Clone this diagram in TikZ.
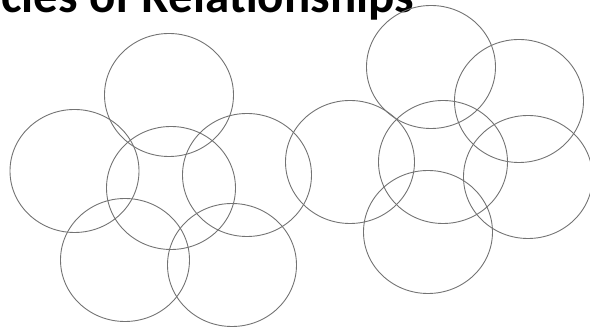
\documentclass[tikz,border=0pt]{standalone}
\usepackage{fontspec}
\setmainfont{Carlito}
\usetikzlibrary{shapes.geometric}
\begin{document}
\begin{tikzpicture}[x=1pt,y=-1pt,
  ring/.style={ellipse,draw=black!55,line width=0.9pt,minimum width=129pt,minimum height=123pt,inner sep=0pt},
  titletext/.style={anchor=base west,inner sep=0pt,font=\bfseries\fontsize{49}{54}\selectfont}]
\useasboundingbox (0,0) rectangle (590,328);
\node[titletext] (title) at (1,13) {cies of Relationships};
\node[ring] (c1) at (169,95) {};
\node[ring] (c2) at (74.5,171) {};
\node[ring] (c3) at (171,188) {};
\node[ring] (c4) at (247,175) {};
\node[ring] (c5) at (125,260) {};
\node[ring] (c6) at (232,265) {};
\node[ring] (c7) at (431,67) {};
\node[ring] (c8) at (519,101) {};
\node[ring] (c9) at (350,162) {};
\node[ring] (c10) at (443,162) {};
\node[ring] (c11) at (528,177) {};
\node[ring] (c12) at (428,232) {};
\end{tikzpicture}
\end{document}
